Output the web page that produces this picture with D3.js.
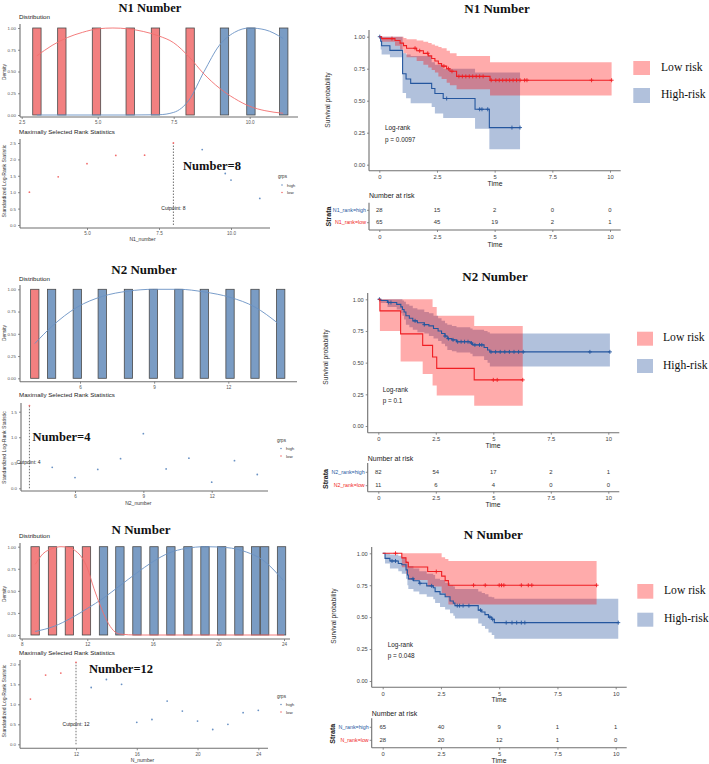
<!DOCTYPE html>
<html><head><meta charset="utf-8">
<script src="https://cdn.jsdelivr.net/npm/d3@7"></script>
<style>body{margin:0;background:#fff}svg{display:block}</style>
</head><body>
<svg id="c" width="709" height="764"></svg>
<script>
// ================= DATA =================
const panelTitles = ["N1 Number", "N2 Number", "N Number"];
const cutTexts = ["Number=8", "Number=4", "Number=12"];
const varLabels = ["N1_number", "N2_number", "N_number"];
const strataHigh = ["N1_rank=high", "N2_rank=high", "N_rank=high"];
const strataLow = ["N1_rank=low", "N2_rank=low", "N_rank=low"];
const pValues = ["p = 0.0097", "p = 0.1", "p = 0.048"];
const legendLabels = ["Low risk", "High-risk"];
const densTicks = [0, 0.25, 0.5, 0.75, 1];
const survTicks = [0, 0.25, 0.5, 0.75, 1];
const timeTicks = [0, 2.5, 5, 7.5, 10];

// --- distribution histograms (bin centres, all bars reach density 1) ---
const n1BinWidth = 0.275;
const n1BarsLow = [3.0, 3.82, 4.96, 6.07, 6.9, 8.04];
const n1BarsHigh = [9.17, 10.04, 11.12];
const n1DensLowX = [3, 3.5, 4, 4.5, 5, 5.5, 6, 6.5, 7, 7.5, 8, 8.5, 9, 9.5, 10, 10.5, 11.1];
const n1DensLowY = [0.68, 0.80, 0.89, 0.95, 0.99, 1.0, 0.99, 0.96, 0.91, 0.83, 0.67, 0.47, 0.31, 0.19, 0.10, 0.05, 0.02];
const n1DensHighX = [3, 4, 5, 6, 7, 7.5, 8, 8.5, 9, 9.5, 10, 10.5, 11.1];
const n1DensHighY = [0, 0, 0, 0, 0.003, 0.03, 0.17, 0.50, 0.80, 0.95, 1.0, 0.98, 0.88];
const n1XTicks = [2.5, 5, 7.5, 10];

const n2BinWidth = 0.336;
const n2BarsLow = [4.17];
const n2BarsHigh = [4.85, 5.89, 6.9, 7.96, 8.97, 10.0, 11.03, 12.07, 13.08, 14.12];
const n2DensHighX = [4.17, 4.85, 5.89, 6.9, 7.96, 8.97, 10.0, 11.03, 12.07, 13.08, 14.0];
const n2DensHighY = [0.39, 0.58, 0.80, 0.92, 0.98, 1.0, 1.0, 0.97, 0.91, 0.80, 0.62];
const n2XTicks = [6, 9, 12];

const nBinWidth = 0.51;
const nBarsLow = [8.82, 9.88, 10.91, 11.95];
const nBarsHigh = [12.99, 13.99, 15.03, 16.07, 17.1, 18.14, 19.18, 20.2, 21.25, 22.27, 22.82, 23.85];
const nDensLowX = [8.82, 9.3, 9.88, 10.4, 10.91, 11.3, 11.7, 12.0, 12.4, 12.8, 13.2, 13.6, 14.0, 15, 24];
const nDensLowY = [0.80, 0.92, 0.98, 1.0, 0.99, 0.95, 0.87, 0.76, 0.53, 0.33, 0.16, 0.05, 0.01, 0, 0];
const nDensHighX = [8.82, 10, 11, 12, 13, 14, 15, 16, 17, 18, 19.2, 20.5, 21.7, 22.7, 23.95];
const nDensHighY = [0.04, 0.10, 0.19, 0.30, 0.42, 0.56, 0.70, 0.83, 0.93, 0.98, 1.0, 0.99, 0.94, 0.85, 0.62];
const nXTicks = [8, 12, 16, 20, 24];

// --- maximally selected rank statistics ---
const n1StatX = [3, 4, 5, 6, 7, 8, 9, 9.8, 10, 11];
const n1StatY = [1.0, 1.47, 1.87, 2.12, 2.13, 2.5, 2.3, 1.57, 1.37, 0.81];
const n1Cut = 8;
const n1StatYTicks = [0, 0.5, 1, 1.5, 2, 2.5];
const n1StatXTicks = [5, 7.5, 10];

const n2StatX = [4, 5, 6, 7, 8, 9, 10, 11, 12, 13, 14];
const n2StatY = [1.62, 0.41, 0.21, 0.37, 0.58, 1.07, 0.38, 0.59, 0.12, 0.54, 0.27];
const n2Cut = 4;
const n2StatYTicks = [0, 0.5, 1, 1.5];
const n2StatXTicks = [6, 9, 12];

const nStatX = [9, 10, 11, 12, 13, 14, 15, 16, 17, 18, 19, 20, 21, 22, 23, 24];
const nStatY = [1.13, 1.73, 1.78, 2.05, 1.42, 1.62, 1.5, 0.55, 0.62, 1.08, 0.83, 0.58, 0.37, 0.5, 0.79, 0.85];
const nCut = 12;
const nStatYTicks = [0, 0.5, 1, 1.5, 2];
const nStatXTicks = [12, 16, 20, 24];

// --- Kaplan-Meier curves ---
const n1LowT = [0, 0.1, 0.68, 0.90, 1.05, 1.18, 1.62, 1.91, 2.12, 2.27, 2.41, 2.56, 2.70, 2.92, 3.06, 3.35, 4.80];
const n1LowS = [1.0, 0.985, 0.97, 0.95, 0.93, 0.91, 0.89, 0.87, 0.85, 0.83, 0.81, 0.79, 0.77, 0.75, 0.73, 0.69, 0.66];
const n1LowU = [1.0, 1.0, 1.0, 1.0, 0.99, 0.98, 0.97, 0.96, 0.95, 0.94, 0.93, 0.92, 0.91, 0.89, 0.87, 0.85, 0.80];
const n1LowL = [1.0, 0.96, 0.93, 0.90, 0.87, 0.84, 0.81, 0.78, 0.76, 0.74, 0.72, 0.69, 0.67, 0.64, 0.62, 0.59, 0.54];
const n1LowEnd = 10.07;
const n1LowCens = [0.55, 1.55, 1.75, 2.1, 2.8, 3.0, 3.15, 3.45, 3.6, 3.75, 3.9, 4.05, 4.2, 4.35, 4.5, 4.85, 5.05, 5.2, 5.35, 5.5, 5.65, 5.8, 5.95, 6.1, 6.3, 6.4, 9.2, 10.07];
const n1HighT = [0, 0.06, 0.1, 0.46, 1.01, 1.16, 1.36, 2.27, 2.41, 2.77, 4.15, 4.77];
const n1HighS = [1.0, 0.964, 0.929, 0.893, 0.71, 0.67, 0.635, 0.595, 0.556, 0.517, 0.433, 0.29];
const n1HighU = [1.0, 1.0, 1.0, 1.0, 0.87, 0.86, 0.85, 0.80, 0.78, 0.75, 0.72, 0.72];
const n1HighL = [1.0, 0.90, 0.86, 0.84, 0.56, 0.52, 0.48, 0.45, 0.40, 0.365, 0.28, 0.12];
const n1HighEnd = 6.1;
const n1HighCens = [0.02, 2.92, 4.35, 4.45, 4.7, 5.75, 6.1];
const n1RiskHigh = [28, 15, 2, 0, 0];
const n1RiskLow = [65, 45, 19, 2, 1];

const n2LowT = [0, 0.07, 0.97, 1.93, 2.36, 2.54, 4.17];
const n2LowS = [1.0, 0.909, 0.727, 0.636, 0.545, 0.455, 0.364];
const n2LowU = [1.0, 1.0, 1.0, 1.0, 0.94, 0.87, 0.79];
const n2LowL = [1.0, 0.75, 0.51, 0.41, 0.32, 0.24, 0.16];
const n2LowEnd = 6.28;
const n2LowCens = [5.0, 5.17, 6.28];
const n2HighT = [0, 0.1, 0.4, 0.8, 0.98, 1.05, 1.12, 1.2, 1.35, 1.5, 1.7, 2.0, 2.2, 2.4, 2.6, 2.75, 2.9, 3.0, 3.2, 3.4, 4.0, 4.1, 4.6, 4.75, 4.85];
const n2HighS = [1.0, 0.99, 0.975, 0.96, 0.94, 0.92, 0.90, 0.87, 0.85, 0.83, 0.815, 0.80, 0.79, 0.77, 0.75, 0.73, 0.71, 0.69, 0.68, 0.665, 0.655, 0.64, 0.62, 0.60, 0.585];
const n2HighU = [1.0, 1.0, 1.0, 1.0, 1.0, 0.99, 0.98, 0.96, 0.95, 0.93, 0.92, 0.90, 0.89, 0.87, 0.85, 0.83, 0.81, 0.80, 0.79, 0.78, 0.77, 0.76, 0.75, 0.74, 0.73];
const n2HighL = [1.0, 0.97, 0.94, 0.92, 0.89, 0.87, 0.84, 0.80, 0.78, 0.76, 0.74, 0.73, 0.71, 0.69, 0.67, 0.65, 0.63, 0.60, 0.59, 0.58, 0.57, 0.55, 0.52, 0.50, 0.47];
const n2HighEnd = 10.07;
const n2HighCens = [0.05, 0.45, 0.55, 1.6, 2.0, 2.9, 3.05, 3.25, 3.45, 3.6, 3.75, 3.9, 4.05, 4.2, 4.4, 4.5, 4.9, 5.1, 5.3, 5.5, 5.7, 5.9, 6.1, 6.3, 9.2, 10.07];
const n2RiskHigh = [82, 54, 17, 2, 1];
const n2RiskLow = [11, 6, 4, 0, 0];

const nLowT = [0, 0.82, 1.0, 1.1, 1.93, 2.53, 2.68, 2.82];
const nLowS = [1.0, 0.964, 0.929, 0.893, 0.857, 0.821, 0.786, 0.75];
const nLowU = [1.0, 1.0, 1.0, 1.0, 1.0, 0.97, 0.955, 0.94];
const nLowL = [1.0, 0.89, 0.84, 0.79, 0.74, 0.69, 0.66, 0.60];
const nLowEnd = 9.18;
const nLowCens = [0.55, 2.3, 3.9, 4.4, 5.0, 5.1, 5.2, 5.95, 6.25, 6.4, 9.18];
const nHighT = [0, 0.1, 0.31, 0.67, 0.82, 1.0, 1.06, 1.1, 1.32, 1.57, 1.89, 2.17, 2.25, 2.46, 2.68, 2.89, 3.03, 3.1, 4.1, 4.25, 4.39, 4.54, 4.68, 4.79];
const nHighS = [1.0, 0.96, 0.94, 0.92, 0.91, 0.87, 0.83, 0.80, 0.785, 0.765, 0.745, 0.73, 0.70, 0.68, 0.66, 0.627, 0.61, 0.59, 0.555, 0.54, 0.52, 0.50, 0.483, 0.457];
const nHighU = [1.0, 1.0, 0.99, 0.98, 0.97, 0.94, 0.92, 0.90, 0.88, 0.86, 0.84, 0.83, 0.80, 0.79, 0.77, 0.75, 0.74, 0.72, 0.70, 0.69, 0.68, 0.66, 0.655, 0.645];
const nHighL = [1.0, 0.92, 0.88, 0.86, 0.84, 0.80, 0.75, 0.72, 0.70, 0.68, 0.66, 0.64, 0.61, 0.58, 0.56, 0.53, 0.51, 0.49, 0.45, 0.43, 0.41, 0.38, 0.36, 0.33];
const nHighEnd = 10.11;
const nHighCens = [0.4, 0.55, 1.3, 1.6, 2.1, 3.2, 3.3, 3.45, 3.7, 4.2, 4.6, 4.72, 5.3, 5.55, 5.75, 5.95, 6.1, 10.11];
const nRiskHigh = [65, 40, 9, 1, 1];
const nRiskLow = [28, 20, 12, 1, 0];

// ================= STYLE =================
const SANS = "'Liberation Sans', Arial, sans-serif";
const SERIF = "'Liberation Serif', 'Times New Roman', serif";
const AXC = "#6f6f6f";
const BAR_RED = "#F28080", BAR_BLUE = "#7A9CC4";
const DEN_RED = "#F26E6E", DEN_BLUE = "#6A92C4";
const KM_RED = "#F01E23", KM_BLUE = "#24569E";
const BAND_RED = "rgba(255,0,0,0.33)", BAND_BLUE = "rgba(31,78,154,0.35)";

const svg = d3.select("#c");

function txt(g, x, y, s, o = {}) {
  const t = g.append("text").attr("x", x).attr("y", y).text(s)
    .attr("font-family", o.font || SANS).attr("font-size", o.size || 6)
    .attr("fill", o.fill || "#222").attr("text-anchor", o.anchor || "start");
  if (o.weight) t.attr("font-weight", o.weight);
  if (o.rotate) t.attr("transform", `rotate(-90,${x},${y})`).attr("dominant-baseline", "middle");
  if (o.mid) t.attr("dominant-baseline", "middle");
  return t;
}
function hline(g, x1, x2, y, c = AXC, w = 1.1) {
  g.append("line").attr("x1", x1).attr("x2", x2).attr("y1", y).attr("y2", y).attr("stroke", c).attr("stroke-width", w);
}
function vline(g, x, y1, y2, c = AXC, w = 1.1) {
  g.append("line").attr("x1", x).attr("x2", x).attr("y1", y1).attr("y2", y2).attr("stroke", c).attr("stroke-width", w);
}
function styleAxis(a, fs, col) {
  a.select(".domain").remove();
  a.attr("font-family", SANS).attr("font-size", fs);
  a.selectAll(".tick line").attr("stroke", AXC).attr("stroke-width", 0.8);
  a.selectAll(".tick text").attr("fill", col);
}

// ================= DISTRIBUTION PANELS =================
function drawDist(L, D) {
  const g = svg.append("g");
  const x = d3.scaleLinear().domain(L.xDom).range(L.xRng);
  const y = d3.scaleLinear().domain([0, 1]).range(L.yRng);
  const bw = D.binWidth;
  const bars = D.low.map(v => ({ v, c: BAR_RED })).concat(D.high.map(v => ({ v, c: BAR_BLUE })));
  g.selectAll("rect").data(bars).join("rect")
    .attr("x", d => x(d.v - bw / 2)).attr("width", d => x(d.v + bw / 2) - x(d.v - bw / 2))
    .attr("y", y(1)).attr("height", y(0) - y(1))
    .attr("fill", d => d.c).attr("stroke", "#4a4a4a").attr("stroke-width", 0.8);
  const line = d3.line().x(d => x(d[0])).y(d => y(d[1])).curve(d3.curveMonotoneX);
  if (D.highX) g.append("path").datum(d3.zip(D.highX, D.highY)).attr("d", line)
    .attr("fill", "none").attr("stroke", DEN_BLUE).attr("stroke-width", 0.9);
  if (D.lowX) g.append("path").datum(d3.zip(D.lowX, D.lowY)).attr("d", line)
    .attr("fill", "none").attr("stroke", DEN_RED).attr("stroke-width", 0.9);
  vline(g, L.axX, L.yTop, L.axY); hline(g, L.axX, L.xEnd, L.axY);
  const ay = g.append("g").attr("transform", `translate(${L.axX},0)`)
    .call(d3.axisLeft(y).tickValues(densTicks).tickFormat(d3.format(".2f")).tickSize(2).tickPadding(2));
  styleAxis(ay, 4.4, "#555");
  const ax = g.append("g").attr("transform", `translate(0,${L.axY})`)
    .call(d3.axisBottom(x).tickValues(D.xTicks).tickFormat(D.xFmt).tickSize(2).tickPadding(2));
  styleAxis(ax, 4.6, "#555");
  txt(g, L.title[0], L.title[1], D.title, { font: SERIF, size: L.tsize || 13, weight: "bold", anchor: "middle", fill: "#111" });
  txt(g, 19, L.sub, "Distribution", { size: 6.2 });
  txt(g, 5, L.ylab, "Density", { size: 4.8, anchor: "middle", rotate: true, fill: "#333" });
}

// ================= MAXSTAT PANELS =================
function drawStat(L, S) {
  const g = svg.append("g");
  const x = d3.scaleLinear().domain(L.xDom).range(L.xRng);
  const y = d3.scaleLinear().domain(L.yDom).range(L.yRng);
  const pts = d3.zip(S.x, S.y).map(([a, b]) => ({ a, b, low: a <= S.cut }));
  vline(g, L.axX, L.yTop, L.axY); hline(g, L.axX, L.xEnd, L.axY);
  g.append("line").attr("x1", x(S.cut)).attr("x2", x(S.cut))
    .attr("y1", y(0)).attr("y2", y(d3.max(S.y)))
    .attr("stroke", "#333").attr("stroke-width", 0.7).attr("stroke-dasharray", "1.5,1.5");
  g.selectAll("circle").data(pts).join("circle")
    .attr("cx", d => x(d.a)).attr("cy", d => y(d.b)).attr("r", 0.9)
    .attr("fill", d => d.low ? "#F26E6E" : "#6A92C4");
  const ay = g.append("g").attr("transform", `translate(${L.axX},0)`)
    .call(d3.axisLeft(y).tickValues(S.yTicks).tickFormat(d3.format(".1f")).tickSize(2).tickPadding(2));
  styleAxis(ay, 4.4, "#555");
  const ax = g.append("g").attr("transform", `translate(0,${L.axY})`)
    .call(d3.axisBottom(x).tickValues(S.xTicks).tickFormat(S.xFmt).tickSize(2).tickPadding(2));
  styleAxis(ax, 4.6, "#555");
  txt(g, 19, L.sub, "Maximally Selected Rank Statistics", { size: 6.2 });
  txt(g, L.cutLab[0] === null ? x(S.cut) : L.cutLab[0], L.cutLab[1], "Cutpoint: " + S.cut, { size: 5, anchor: "middle" });
  txt(g, L.num[0], L.num[1], S.cutText, { font: SERIF, size: 12.5, weight: "bold", anchor: "middle", fill: "#111" });
  txt(g, L.leg[0], L.leg[1], "grps", { size: 4.6, fill: "#333" });
  g.append("circle").attr("cx", L.leg[0] + 4).attr("cy", L.leg[1] + 7).attr("r", 0.8).attr("fill", "#6A92C4");
  g.append("circle").attr("cx", L.leg[0] + 4).attr("cy", L.leg[1] + 14.5).attr("r", 0.8).attr("fill", "#F26E6E");
  txt(g, L.leg[0] + 9, L.leg[1] + 8.6, "high", { size: 4.4, fill: "#333" });
  txt(g, L.leg[0] + 9, L.leg[1] + 16.1, "low", { size: 4.4, fill: "#333" });
  txt(g, L.xlab[0], L.xlab[1], S.xlab, { size: 5, anchor: "middle", fill: "#333" });
  txt(g, 5, L.ylab, "Standardized Log-Rank Statistic", { size: 5.1, anchor: "middle", rotate: true, fill: "#333" });
}

// ================= KM PANELS =================
function stepVal(T, S, t) { let i = 0; while (i + 1 < T.length && T[i + 1] <= t) i++; return S[i]; }
function drawKM(L, K) {
  const g = svg.append("g");
  const x = d3.scaleLinear().domain([0, 10]).range(L.xRng);
  const y = d3.scaleLinear().domain([0, 1]).range(L.yRng);
  const grp = [
    { T: K.hT, S: K.hS, U: K.hU, Lo: K.hL, end: K.hEnd, cens: K.hC, col: KM_BLUE, band: BAND_BLUE },
    { T: K.lT, S: K.lS, U: K.lU, Lo: K.lL, end: K.lEnd, cens: K.lC, col: KM_RED, band: BAND_RED }
  ];
  const area = d3.area().curve(d3.curveStepAfter).x(d => x(d.t)).y0(d => y(d.lo)).y1(d => y(d.up));
  const line = d3.line().curve(d3.curveStepAfter).x(d => x(d.t)).y(d => y(d.s));
  grp.forEach(G => {
    G.pts = G.T.map((t, i) => ({ t, s: G.S[i], up: G.U[i], lo: G.Lo[i] }));
    const last = G.pts[G.pts.length - 1];
    G.pts.push({ t: G.end, s: last.s, up: last.up, lo: last.lo });
    g.append("path").datum(G.pts).attr("d", area).attr("fill", G.band).attr("stroke", "none");
  });
  grp.forEach(G => {
    g.append("path").datum(G.pts).attr("d", line).attr("fill", "none").attr("stroke", G.col).attr("stroke-width", 1.1);
    G.cens.forEach(c => {
      const cx = x(c), cy = y(stepVal(G.T, G.S, c));
      g.append("path").attr("d", `M${cx - 2},${cy}H${cx + 2}M${cx},${cy - 2}V${cy + 2}`)
        .attr("stroke", G.col).attr("stroke-width", 0.9);
    });
  });
  vline(g, L.axX, L.yTop, L.axY); hline(g, L.axX, L.xEnd, L.axY);
  const ay = g.append("g").attr("transform", `translate(${L.axX},0)`)
    .call(d3.axisLeft(y).tickValues(survTicks).tickFormat(d3.format(".2f")).tickSize(2).tickPadding(2));
  styleAxis(ay, 5.6, "#444");
  const ax = g.append("g").attr("transform", `translate(0,${L.axY})`)
    .call(d3.axisBottom(x).tickValues(timeTicks).tickFormat(d => String(d)).tickSize(2).tickPadding(2.5));
  styleAxis(ax, 5.8, "#444");
  txt(g, L.title[0], L.title[1], K.title, { font: SERIF, size: 13, weight: "bold", anchor: "middle", fill: "#111" });
  txt(g, L.ylab[0], L.ylab[1], "Survival probability", { size: 6.6, anchor: "middle", rotate: true, fill: "#333" });
  txt(g, L.time[0], L.time[1], "Time", { size: 6.8, anchor: "middle", fill: "#222" });
  txt(g, L.lr[0], L.lr[1], "Log-rank", { size: 6.4, fill: "#222" });
  txt(g, L.lr[0], L.lr[2], K.p, { size: 6.4, fill: "#222" });
  // legend
  const lg = L.leg;
  g.append("rect").attr("x", lg.x).attr("y", lg.r[0]).attr("width", lg.w).attr("height", lg.r[1] - lg.r[0]).attr("fill", BAND_RED);
  g.append("rect").attr("x", lg.x).attr("y", lg.b[0]).attr("width", lg.w).attr("height", lg.b[1] - lg.b[0]).attr("fill", BAND_BLUE);
  txt(g, lg.tx, (lg.r[0] + lg.r[1]) / 2, legendLabels[0], { font: SERIF, size: 11.6, mid: true, fill: "#111" });
  txt(g, lg.tx, (lg.b[0] + lg.b[1]) / 2, legendLabels[1], { font: SERIF, size: 11.6, mid: true, fill: "#111" });
  // risk table
  const R = L.risk;
  txt(g, L.axX, R.title, "Number at risk", { size: 7, fill: "#222" });
  vline(g, L.axX, R.yTop, R.axY); hline(g, L.axX, L.xEnd, R.axY);
  const rows = [{ v: K.rH, lab: K.sH, col: KM_BLUE, y: R.rows[0] }, { v: K.rL, lab: K.sL, col: KM_RED, y: R.rows[1] }];
  rows.forEach(r => {
    r.v.forEach((n, i) => txt(g, x(timeTicks[i]), r.y, String(n), { size: 5.9, anchor: "middle", mid: true, fill: "#333" }));
    g.append("line").attr("x1", L.axX - 2).attr("x2", L.axX).attr("y1", r.y).attr("y2", r.y).attr("stroke", AXC).attr("stroke-width", 0.8);
    txt(g, L.axX - 3, r.y, r.lab, { size: 5.3, anchor: "end", mid: true, fill: r.col });
  });
  const rx = g.append("g").attr("transform", `translate(0,${R.axY})`)
    .call(d3.axisBottom(x).tickValues(timeTicks).tickFormat(d => String(d)).tickSize(2).tickPadding(2.5));
  styleAxis(rx, 5.8, "#444");
  txt(g, L.time[0], R.timeY, "Time", { size: 6.8, anchor: "middle", fill: "#222" });
  txt(g, R.strataX, (R.rows[0] + R.rows[1]) / 2, "Strata", { size: 7, weight: "bold", anchor: "middle", rotate: true, fill: "#222" });
}

// ================= LAYOUT & CALLS =================
drawDist({ title: [150, 11.5], tsize: 12.5, sub: 18.8, axX: 20, axY: 117, yTop: 24, xEnd: 298, xDom: [2.5, 10], xRng: [21.7, 249.7], yRng: [115, 28], ylab: 72 },
  { title: panelTitles[0], binWidth: n1BinWidth, low: n1BarsLow, high: n1BarsHigh, lowX: n1DensLowX, lowY: n1DensLowY, highX: n1DensHighX, highY: n1DensHighY, xTicks: n1XTicks, xFmt: d3.format(".1f") });
drawDist({ title: [144, 274], sub: 281, axX: 20, axY: 381.7, yTop: 285, xEnd: 297, xDom: [6, 12], xRng: [80, 228.3], yRng: [378.3, 289.3], ylab: 333 },
  { title: panelTitles[1], binWidth: n2BinWidth, low: n2BarsLow, high: n2BarsHigh, highX: n2DensHighX, highY: n2DensHighY, xTicks: n2XTicks, xFmt: d3.format("d") });
drawDist({ title: [141, 534], sub: 537.5, axX: 20, axY: 639, yTop: 543, xEnd: 290, xDom: [8, 24], xRng: [21.7, 284], yRng: [635, 546.7], ylab: 594 },
  { title: panelTitles[2], binWidth: nBinWidth, low: nBarsLow, high: nBarsHigh, lowX: nDensLowX, lowY: nDensLowY, highX: nDensHighX, highY: nDensHighY, xTicks: nXTicks, xFmt: d3.format("d") });

drawStat({ sub: 134, axX: 20, axY: 228, yTop: 139, xEnd: 270, xDom: [5, 10], xRng: [87, 231], yDom: [0, 2.5], yRng: [225, 143], cutLab: [null, 210], num: [212, 169.5], leg: [278, 178], xlab: [142.5, 240.5], ylab: 181 },
  { x: n1StatX, y: n1StatY, cut: n1Cut, yTicks: n1StatYTicks, xTicks: n1StatXTicks, xFmt: d3.format(".1f"), cutText: cutTexts[0], xlab: varLabels[0] });
drawStat({ sub: 397, axX: 21, axY: 491, yTop: 403, xEnd: 268, xDom: [6, 12], xRng: [75, 211.7], yDom: [0, 1.5], yRng: [488.3, 411.7], cutLab: [28.5, 464], num: [61.5, 440.5], leg: [277, 441.5], xlab: [138.3, 505], ylab: 447.5 },
  { x: n2StatX, y: n2StatY, cut: n2Cut, yTicks: n2StatYTicks, xTicks: n2StatXTicks, xFmt: d3.format("d"), cutText: cutTexts[1], xlab: varLabels[1] });
drawStat({ sub: 654.5, axX: 20, axY: 748.3, yTop: 660, xEnd: 268, xDom: [12, 24], xRng: [76, 258.3], yDom: [0, 2], yRng: [744.3, 664.3], cutLab: [null, 726], num: [121, 673], leg: [277, 697.5], xlab: [142.5, 761.5], ylab: 701 },
  { x: nStatX, y: nStatY, cut: nCut, yTicks: nStatYTicks, xTicks: nStatXTicks, xFmt: d3.format("d"), cutText: cutTexts[2], xlab: varLabels[2] });

drawKM({ title: [497, 12.5], axX: 369, axY: 170.7, yTop: 30, xEnd: 620.7, xRng: [379.3, 610], yRng: [164.7, 36.7], ylab: [328, 100], time: [495, 186], lr: [385, 130, 141.5],
  leg: { x: 633.3, w: 16.7, r: [61, 75], b: [88, 103], tx: 661 },
  risk: { title: 198, yTop: 202.7, axY: 230, rows: [210.3, 222.7], timeY: 246.5, strataX: 329 } },
  { title: panelTitles[0], p: pValues[0], hT: n1HighT, hS: n1HighS, hU: n1HighU, hL: n1HighL, hEnd: n1HighEnd, hC: n1HighCens,
    lT: n1LowT, lS: n1LowS, lU: n1LowU, lL: n1LowL, lEnd: n1LowEnd, lC: n1LowCens, rH: n1RiskHigh, rL: n1RiskLow, sH: strataHigh[0], sL: strataLow[0] });
drawKM({ title: [495, 281], axX: 367.7, axY: 432.7, yTop: 293, xEnd: 619.3, xRng: [378.3, 608.3], yRng: [426, 299.3], ylab: [326.7, 357], time: [493, 447.5], lr: [382.7, 391.5, 403],
  leg: { x: 637, w: 16, r: [331.7, 345.7], b: [359, 373], tx: 663 },
  risk: { title: 460.5, yTop: 463, axY: 491.7, rows: [472.3, 485.7], timeY: 507, strataX: 326 } },
  { title: panelTitles[1], p: pValues[1], hT: n2HighT, hS: n2HighS, hU: n2HighU, hL: n2HighL, hEnd: n2HighEnd, hC: n2HighCens,
    lT: n2LowT, lS: n2LowS, lU: n2LowU, lL: n2LowL, lEnd: n2LowEnd, lC: n2LowCens, rH: n2RiskHigh, rL: n2RiskLow, sH: strataHigh[1], sL: strataLow[1] });
drawKM({ title: [493.3, 539], axX: 371.7, axY: 687.3, yTop: 547, xEnd: 626.7, xRng: [382.7, 615.7], yRng: [681, 553.3], ylab: [334.5, 616], time: [499, 702], lr: [387.7, 646.5, 658],
  leg: { x: 637.3, w: 16, r: [584, 598.7], b: [612.7, 626.7], tx: 664 },
  risk: { title: 715.5, yTop: 718.3, axY: 747.7, rows: [727.3, 740.3], timeY: 763, strataX: 333 } },
  { title: panelTitles[2], p: pValues[2], hT: nHighT, hS: nHighS, hU: nHighU, hL: nHighL, hEnd: nHighEnd, hC: nHighCens,
    lT: nLowT, lS: nLowS, lU: nLowU, lL: nLowL, lEnd: nLowEnd, lC: nLowCens, rH: nRiskHigh, rL: nRiskLow, sH: strataHigh[2], sL: strataLow[2] });
</script>
</body></html>
